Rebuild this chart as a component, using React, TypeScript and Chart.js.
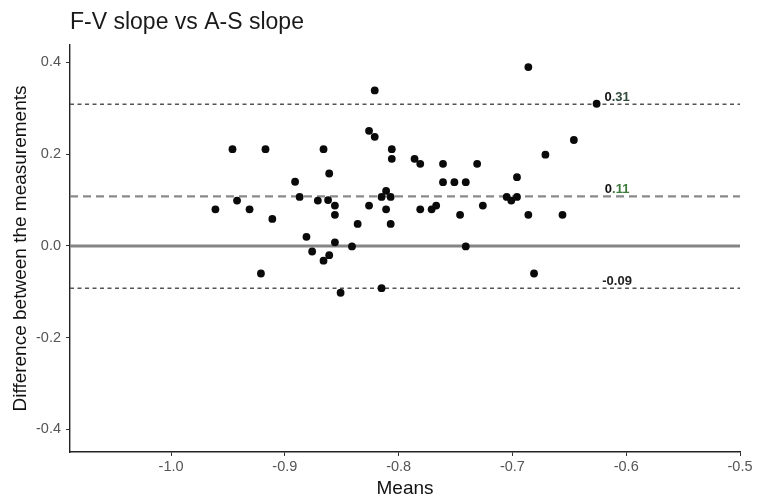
import React, { useEffect, useRef } from "react";
import { Chart, registerables } from "chart.js";

Chart.register(...registerables);

const titleText = "F-V slope vs A-S slope";
const xTitle = "Means";
const yTitle = "Difference between the measurements";

const meansX = [
  -0.961, -0.946, -0.942, -0.931, -0.921, -0.917, -0.911, -0.891, -0.887, -0.881,
  -0.876, -0.871, -0.866, -0.866, -0.861, -0.862, -0.861, -0.856, -0.856, -0.856,
  -0.851, -0.841, -0.836, -0.826, -0.821, -0.821, -0.826, -0.815, -0.811, -0.807,
  -0.811, -0.807, -0.815, -0.806, -0.806, -0.786, -0.781, -0.781, -0.771, -0.767,
  -0.761, -0.761, -0.751, -0.741, -0.746, -0.741, -0.731, -0.726, -0.705, -0.701,
  -0.696, -0.696, -0.686, -0.681, -0.686, -0.671, -0.656, -0.646, -0.626,
];
const diffsY = [
  0.080, 0.211, 0.099, 0.080, -0.060, 0.211, 0.059, 0.140, 0.107, 0.020,
  -0.012, 0.099, 0.211, -0.032, 0.158, 0.100, -0.020, 0.088, 0.068, 0.008,
  -0.102, -0.001, 0.048, 0.251, 0.238, 0.339, 0.088, 0.107, 0.120, 0.107,
  0.080, 0.048, -0.092, 0.211, 0.190, 0.190, 0.179, 0.080, 0.080, 0.088,
  0.179, 0.139, 0.139, 0.139, 0.068, -0.001, 0.179, 0.088, 0.107, 0.099,
  0.107, 0.150, 0.068, -0.060, 0.390, 0.199, 0.068, 0.231, 0.310,
];

const limitValues = [0.309, 0.108, -0.092];
const limitLabels = ["0.31", "0.11", "-0.09"];
const labelX = -0.608;

const xTicks = [-1.0, -0.9, -0.8, -0.7, -0.6, -0.5];
const xTickLabels = ["-1.0", "-0.9", "-0.8", "-0.7", "-0.6", "-0.5"];
const yTicks = [0.4, 0.2, 0.0, -0.2, -0.4];
const yTickLabels = ["0.4", "0.2", "0.0", "-0.2", "-0.4"];

const X_MIN = -1.0888;
const X_MAX = -0.5;
const Y_MIN = -0.4491;
const Y_MAX = 0.4381;

const FONT = "'Liberation Sans', Arial, sans-serif";

export default function App() {
  const ref = useRef<HTMLCanvasElement | null>(null);

  useEffect(() => {
    if (!ref.current) return;

    const labelPlugin = {
      id: "limitLabels",
      afterDatasetsDraw(chart: any) {
        const { ctx, scales } = chart;
        const xs = scales.x;
        const ys = scales.y;
        ctx.save();
        ctx.font = `bold 13px ${FONT}`;
        ctx.textBaseline = "alphabetic";
        limitValues.forEach((v, i) => {
          const label = limitLabels[i];
          const px = xs.getPixelForValue(labelX);
          const py = ys.getPixelForValue(v) - 3;
          const total = ctx.measureText(label).width;
          let x = px - total / 2;
          if (i === 2) {
            ctx.fillStyle = "#222222";
            ctx.fillText(label, x, py);
          } else {
            const head = label.slice(0, 1);
            const tail = label.slice(1);
            ctx.fillStyle = "#111111";
            ctx.fillText(head, x, py);
            x += ctx.measureText(head).width;
            ctx.fillStyle = i === 1 ? "#3b7a3b" : "#2f4a3a";
            ctx.fillText(tail, x, py);
          }
        });
        ctx.restore();
      },
    };

    const linePts = (v: number) => [
      { x: X_MIN, y: v },
      { x: X_MAX, y: v },
    ];

    const chart = new Chart(ref.current, {
      type: "scatter",
      data: {
        datasets: [
          {
            label: "points",
            data: meansX.map((x, i) => ({ x, y: diffsY[i] })),
            backgroundColor: "#0a0a0a",
            borderColor: "#0a0a0a",
            pointRadius: 3.9,
            borderWidth: 0,
          },
          {
            type: "line",
            label: "upper",
            data: linePts(limitValues[0]),
            borderColor: "#555555",
            borderWidth: 1.6,
            borderDash: [4, 3.5],
            pointRadius: 0,
            fill: false,
          } as any,
          {
            type: "line",
            label: "mean",
            data: linePts(limitValues[1]),
            borderColor: "#8a8a8a",
            borderWidth: 2.2,
            borderDash: [8, 5],
            pointRadius: 0,
            fill: false,
          } as any,
          {
            type: "line",
            label: "lower",
            data: linePts(limitValues[2]),
            borderColor: "#555555",
            borderWidth: 1.6,
            borderDash: [4, 3.5],
            pointRadius: 0,
            fill: false,
          } as any,
          {
            type: "line",
            label: "zero",
            data: linePts(0),
            borderColor: "#858585",
            borderWidth: 2.8,
            pointRadius: 0,
            fill: false,
          } as any,
        ],
      },
      options: {
        animation: false,
        responsive: false,
        layout: { padding: { left: 0, right: 17, top: 0, bottom: 0 } },
        plugins: {
          legend: { display: false },
          tooltip: { enabled: false },
          title: {
            display: true,
            text: titleText,
            align: "start",
            fullSize: false,
            color: "#1a1a1a",
            font: { family: FONT, size: 23, weight: "normal" },
            padding: { top: 9, bottom: 8.4 },
          },
        },
        scales: {
          x: {
            type: "linear",
            min: X_MIN,
            max: X_MAX,
            afterBuildTicks: (s: any) => {
              s.ticks = xTicks.map((v) => ({ value: v }));
            },
            afterFit: (s: any) => {
              s.height = 48;
            },
            ticks: {
              color: "#555555",
              font: { family: FONT, size: 14.5 },
              padding: 2,
              maxRotation: 0,
              autoSkip: false,
              callback: (v: any) => {
                const i = xTicks.findIndex((t) => Math.abs(t - v) < 1e-9);
                return i >= 0 ? xTickLabels[i] : "";
              },
            },
            grid: {
              drawOnChartArea: false,
              drawTicks: true,
              tickLength: 4,
              color: "#333333",
            },
            border: { display: true, color: "#222222", width: 1.4 },
            title: {
              display: true,
              text: xTitle,
              color: "#111111",
              font: { family: FONT, size: 19 },
              padding: { top: 0, bottom: 0 },
            },
          },
          y: {
            type: "linear",
            min: Y_MIN,
            max: Y_MAX,
            afterBuildTicks: (s: any) => {
              s.ticks = yTicks.map((v) => ({ value: v }));
            },
            afterFit: (s: any) => {
              s.width = 70;
            },
            ticks: {
              color: "#555555",
              font: { family: FONT, size: 14.5 },
              padding: 5,
              autoSkip: false,
              callback: (v: any) => {
                const i = yTicks.findIndex((t) => Math.abs(t - v) < 1e-9);
                return i >= 0 ? yTickLabels[i] : "";
              },
            },
            grid: {
              drawOnChartArea: false,
              drawTicks: true,
              tickLength: 4,
              color: "#333333",
            },
            border: { display: true, color: "#222222", width: 1.4 },
            title: {
              display: true,
              text: yTitle,
              color: "#111111",
              font: { family: FONT, size: 19 },
              padding: { top: 9, bottom: 0 },
            },
          },
        },
      } as any,
      plugins: [labelPlugin],
    });

    return () => {
      chart.destroy();
    };
  }, []);

  return (
    <div
      style={{
        position: "fixed",
        left: 0,
        top: 0,
        width: 757,
        height: 500,
        background: "#ffffff",
      }}
    >
      <canvas ref={ref} width={757} height={500} />
    </div>
  );
}
